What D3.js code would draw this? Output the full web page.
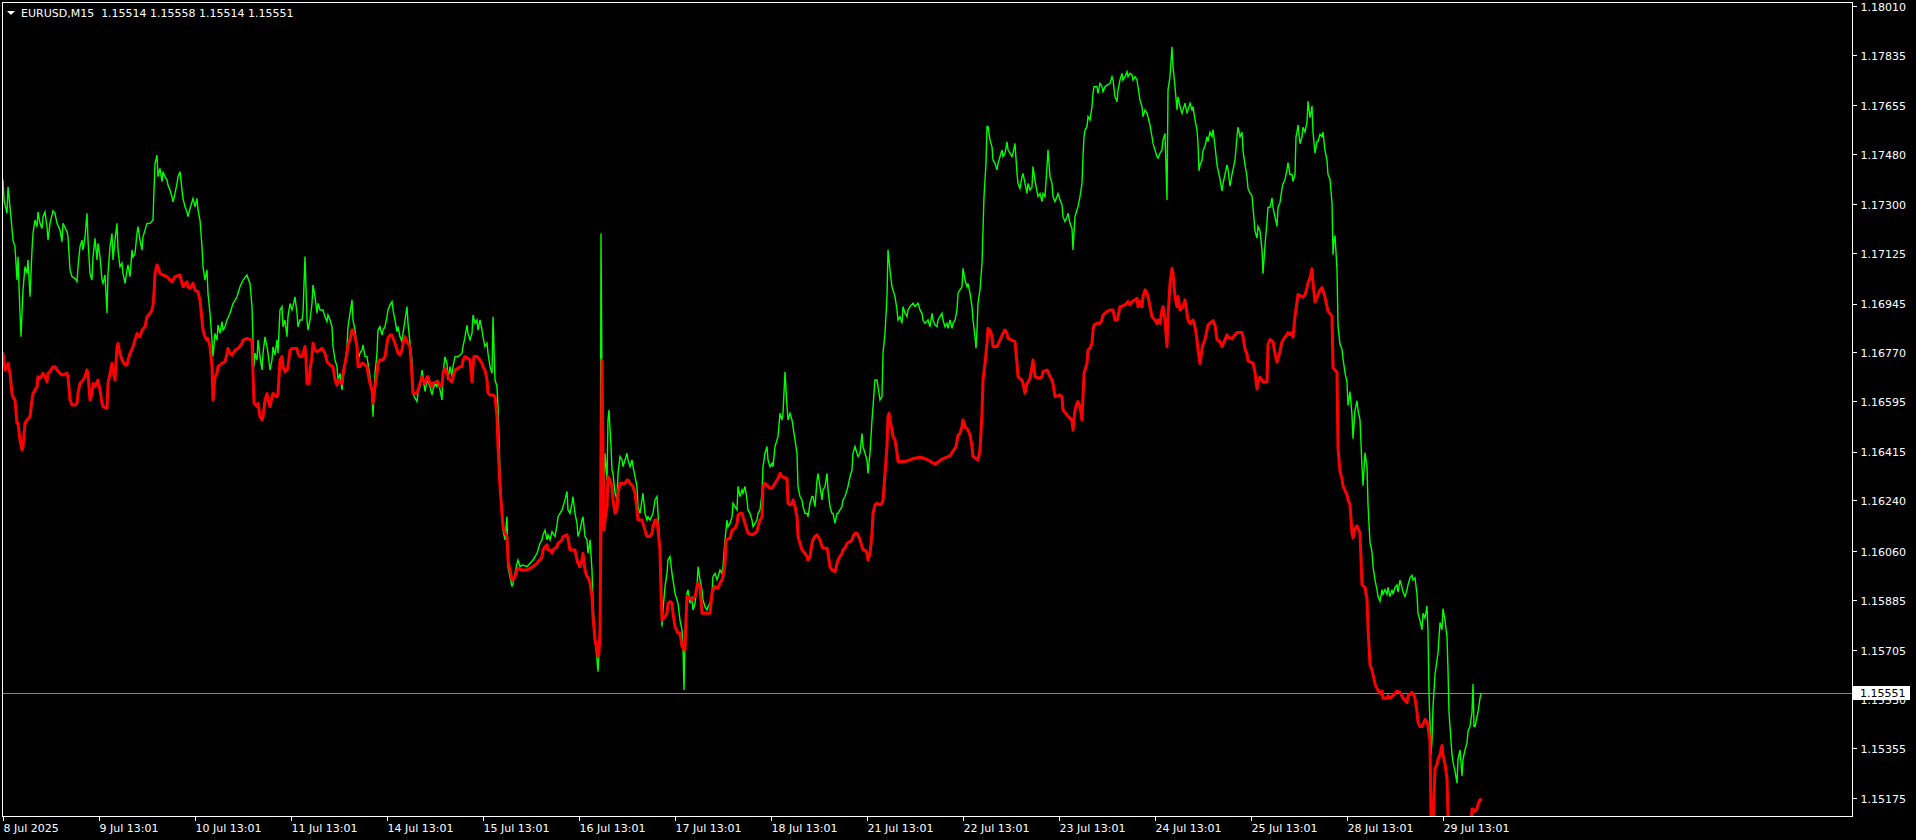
<!DOCTYPE html>
<html>
<head>
<meta charset="utf-8">
<script src="https://cdn.jsdelivr.net/npm/d3@7/dist/d3.min.js"></script>
<style>
  html, body { margin: 0; padding: 0; background: #000; }
  svg { display: block; }
  text { font-family: "DejaVu Sans", sans-serif; font-size: 11px; }
</style>
</head>
<body>
<svg id="chart" width="1916" height="840"></svg>
<script>
// ---------------- DATA ----------------
const symbolTitle = "EURUSD,M15";
const ohlcValues = ["1.15514", "1.15558", "1.15514", "1.15551"];
const lastPrice = 1.15551;

// price axis labels
const priceTicks = [1.18010, 1.17835, 1.17655, 1.17480, 1.17300, 1.17125, 1.16945, 1.16770,
  1.16595, 1.16415, 1.16240, 1.16060, 1.15885, 1.15705, 1.15530, 1.15355, 1.15175];

// time axis: bar index (M15 bars) and label
const timeTickBars = [0, 96, 192, 288, 384, 480, 576, 672, 768, 864, 960, 1056, 1152, 1248, 1344, 1440];
const timeTickLabels = ["8 Jul 2025", "9 Jul 13:01", "10 Jul 13:01", "11 Jul 13:01", "14 Jul 13:01",
  "15 Jul 13:01", "16 Jul 13:01", "17 Jul 13:01", "18 Jul 13:01", "21 Jul 13:01", "22 Jul 13:01",
  "23 Jul 13:01", "24 Jul 13:01", "25 Jul 13:01", "28 Jul 13:01", "29 Jul 13:01"];

// close price series: [bar index, price]
const closeSeries = [
[0,1.17387],[1,1.17315],[4,1.17268],[5,1.17363],[7,1.17291],[10,1.17172],[12,1.17148],[14,1.17029],[15,1.17112],[17,1.16910],[18,1.16826],[19,1.16910],[20,1.16993],[22,1.17077],[24,1.17053],[25,1.17101],[27,1.16969],[29,1.17136],[30,1.17196],[32,1.17244],[34,1.17220],[35,1.17273],[37,1.17232],[39,1.17214],[40,1.17256],[42,1.17273],[44,1.17220],[45,1.17172],[47,1.17232],[50,1.17277],[52,1.17268],[54,1.17232],[57,1.17208],[59,1.17166],[60,1.17232],[64,1.17202],[65,1.17184],[67,1.17065],[69,1.17041],[72,1.17035],[74,1.17023],[75,1.17077],[77,1.17148],[79,1.17172],[80,1.17136],[82,1.17184],[84,1.17268],[85,1.17172],[87,1.17053],[89,1.17029],[90,1.17112],[92,1.17178],[94,1.17101],[95,1.17160],[97,1.17112],[99,1.17029],[100,1.17017],[102,1.17047],[104,1.16910],[105,1.17053],[107,1.17148],[109,1.17196],[110,1.17101],[112,1.17172],[114,1.17232],[115,1.17136],[117,1.17077],[119,1.17089],[120,1.17053],[122,1.17017],[124,1.17065],[125,1.17083],[127,1.17041],[129,1.17136],[130,1.17112],[132,1.17124],[134,1.17196],[135,1.17220],[137,1.17172],[139,1.17136],[140,1.17184],[144,1.17232],[147,1.17232],[150,1.17244],[151,1.17351],[152,1.17446],[154,1.17476],[155,1.17399],[157,1.17429],[159,1.17381],[160,1.17417],[162,1.17399],[164,1.17387],[165,1.17369],[167,1.17351],[169,1.17327],[170,1.17309],[172,1.17339],[174,1.17375],[175,1.17399],[177,1.17417],[179,1.17351],[180,1.17321],[182,1.17291],[184,1.17273],[185,1.17256],[187,1.17285],[189,1.17309],[190,1.17321],[192,1.17291],[194,1.17321],[195,1.17280],[197,1.17244],[199,1.17148],[200,1.17077],[202,1.17029],[204,1.17065],[205,1.16981],[207,1.16910],[209,1.16814],[210,1.16755],[212,1.16838],[214,1.16814],[215,1.16868],[217,1.16838],[219,1.16880],[220,1.16850],[222,1.16862],[224,1.16886],[227,1.16910],[230,1.16945],[234,1.16969],[237,1.17005],[240,1.17029],[244,1.17047],[245,1.17035],[247,1.17017],[249,1.16934],[250,1.16814],[251,1.16719],[252,1.16767],[254,1.16743],[255,1.16814],[257,1.16755],[259,1.16707],[260,1.16767],[262,1.16826],[264,1.16790],[265,1.16767],[267,1.16707],[269,1.16743],[270,1.16790],[272,1.16761],[274,1.16814],[275,1.16767],[277,1.16922],[279,1.16934],[280,1.16862],[282,1.16886],[284,1.16826],[285,1.16898],[287,1.16945],[289,1.16922],[290,1.16934],[292,1.16969],[294,1.16910],[295,1.16862],
[297,1.16886],[299,1.16886],[300,1.16910],[302,1.17113],[304,1.16886],[305,1.16850],[307,1.16886],[309,1.16946],[310,1.17011],[312,1.16970],[314,1.16910],[315,1.16946],[317,1.16922],[320,1.16922],[322,1.16898],[324,1.16880],[325,1.16904],[327,1.16886],[329,1.16862],[330,1.16791],[332,1.16743],[334,1.16719],[335,1.16671],[337,1.16695],[339,1.16636],[340,1.16671],[342,1.16731],[344,1.16791],[345,1.16862],[347,1.16910],[349,1.16958],[350,1.16886],[352,1.16850],[354,1.16791],[355,1.16743],[357,1.16767],[359,1.16779],[360,1.16797],[362,1.16755],[364,1.16755],[365,1.16731],[367,1.16683],[369,1.16624],[370,1.16540],[371,1.16624],[372,1.16695],[374,1.16767],[375,1.16850],[377,1.16862],[379,1.16832],[380,1.16850],[382,1.16862],[384,1.16898],[385,1.16922],[387,1.16940],[389,1.16952],[390,1.16922],[392,1.16886],[394,1.16844],[395,1.16862],[397,1.16826],[399,1.16809],[400,1.16838],[402,1.16886],[404,1.16934],[405,1.16874],[407,1.16803],[409,1.16743],[410,1.16624],[412,1.16606],[414,1.16594],[415,1.16624],[417,1.16648],[419,1.16707],[420,1.16683],[422,1.16630],[424,1.16671],[427,1.16648],[429,1.16618],[430,1.16636],[432,1.16659],[434,1.16648],[435,1.16671],[437,1.16636],[439,1.16600],[440,1.16695],[442,1.16755],[444,1.16731],[445,1.16671],[447,1.16719],[449,1.16683],[450,1.16719],[452,1.16755],[455,1.16755],[459,1.16767],[460,1.16791],[462,1.16826],[464,1.16868],[465,1.16838],[467,1.16815],[469,1.16838],[470,1.16904],[472,1.16874],[474,1.16886],[475,1.16850],[477,1.16886],[479,1.16850],[480,1.16826],[482,1.16791],[484,1.16803],[485,1.16767],[487,1.16719],[489,1.16695],[490,1.16898],[492,1.16671],[494,1.16648],[495,1.16576],[496,1.16469],[497,1.16337],[499,1.16194],[500,1.16134],[502,1.16099],[504,1.16182],[505,1.16003],[507,1.15967],[509,1.15932],[510,1.15944],[512,1.15979],[514,1.16015],[515,1.16027],[517,1.16003],[520,1.16009],[524,1.16003],[527,1.16015],[530,1.16027],[534,1.16051],[535,1.16063],[537,1.16087],[539,1.16099],[540,1.16117],[542,1.16134],[544,1.16099],[545,1.16117],[547,1.16099],[549,1.16129],[550,1.16123],[552,1.16111],[554,1.16152],[555,1.16182],[557,1.16194],[559,1.16206],[560,1.16218],[562,1.16242],[564,1.16272],[565,1.16206],[567,1.16194],[569,1.16230],[570,1.16254],[572,1.16194],[574,1.16158],[575,1.16111],[577,1.16134],[579,1.16170],[580,1.16182],[582,1.16111],[584,1.16099],[585,1.16051],[587,1.16099],[589,1.15991],[590,1.15872],[592,1.15753],[594,1.15669],[595,1.15627],
[597,1.15777],[598,1.17196],[599,1.16648],[600,1.16170],[601,1.16290],[602,1.16409],[604,1.16313],[605,1.16528],[606,1.16564],[608,1.16433],[609,1.16349],[610,1.16337],[612,1.16266],[614,1.16242],[615,1.16337],[617,1.16397],[619,1.16385],[620,1.16361],[622,1.16385],[624,1.16409],[625,1.16385],[627,1.16361],[629,1.16385],[630,1.16361],[632,1.16325],[634,1.16290],[635,1.16218],[637,1.16194],[639,1.16242],[640,1.16266],[642,1.16194],[644,1.16170],[645,1.16182],[647,1.16170],[650,1.16194],[652,1.16242],[654,1.16254],[655,1.16194],[657,1.16051],[659,1.15789],[660,1.15848],[662,1.15932],[664,1.15979],[665,1.16027],[667,1.16039],[669,1.15979],[670,1.15956],[672,1.15908],[674,1.15884],[675,1.15872],[677,1.15812],[679,1.15777],[680,1.15717],[681,1.15562],[682,1.15753],[684,1.15908],[685,1.15920],[687,1.15872],[689,1.15896],[690,1.15848],[692,1.15872],[694,1.15932],[695,1.16003],[697,1.15956],[699,1.15920],[700,1.15884],[702,1.15860],[704,1.15848],[705,1.15860],[707,1.15872],[709,1.15908],[710,1.15967],[712,1.15979],[714,1.15956],[715,1.15967],[717,1.15991],[719,1.15979],[720,1.16003],[722,1.16099],[724,1.16170],[725,1.16146],[727,1.16158],[729,1.16182],[730,1.16230],[732,1.16218],[734,1.16206],[735,1.16290],[737,1.16254],[739,1.16278],[740,1.16266],[742,1.16290],[744,1.16242],[745,1.16206],[747,1.16194],[749,1.16170],[750,1.16146],[752,1.16158],[754,1.16170],[755,1.16194],[757,1.16206],[759,1.16266],[760,1.16361],[762,1.16409],[764,1.16433],[765,1.16385],[767,1.16361],[769,1.16373],[770,1.16361],[772,1.16433],[774,1.16457],[775,1.16469],[777,1.16552],[779,1.16528],[780,1.16552],[782,1.16701],[784,1.16576],[785,1.16528],[787,1.16552],[789,1.16528],[790,1.16504],[792,1.16457],[794,1.16409],[795,1.16290],[797,1.16254],[799,1.16242],[800,1.16218],[802,1.16194],[804,1.16194],[805,1.16182],[807,1.16230],[809,1.16254],[810,1.16254],[812,1.16218],[814,1.16313],[815,1.16337],[817,1.16290],[819,1.16242],[820,1.16278],[822,1.16290],[824,1.16337],[825,1.16278],[827,1.16218],[829,1.16194],[830,1.16194],[832,1.16158],[834,1.16194],[835,1.16194],[837,1.16206],[839,1.16218],[840,1.16242],[842,1.16254],[844,1.16278],[845,1.16290],[847,1.16325],[849,1.16349],[850,1.16409],[852,1.16433],[854,1.16409],[855,1.16397],[857,1.16409],[859,1.16480],[860,1.16433],[862,1.16409],[864,1.16385],[865,1.16337],[867,1.16409],[869,1.16528],[870,1.16576],[872,1.16671],[874,1.16671],[875,1.16648],[877,1.16600],[879,1.16612],[880,1.16767],[882,1.16838],[884,1.16970],[885,1.17137],[887,1.17065],[889,1.17005],[890,1.16993],[892,1.16970],[894,1.16922],[895,1.16886],
[897,1.16898],[899,1.16874],[900,1.16934],[902,1.16910],[904,1.16898],[905,1.16922],[907,1.16934],[910,1.16946],[912,1.16934],[915,1.16946],[917,1.16922],[919,1.16910],[920,1.16886],[922,1.16874],[925,1.16886],[927,1.16862],[929,1.16910],[930,1.16886],[932,1.16868],[934,1.16862],[935,1.16886],[937,1.16898],[939,1.16910],[940,1.16886],[942,1.16862],[944,1.16874],[945,1.16856],[947,1.16886],[949,1.16856],[950,1.16874],[952,1.16886],[954,1.16922],[955,1.16982],[957,1.16994],[959,1.17005],[960,1.17071],[962,1.17029],[964,1.17005],[965,1.17017],[967,1.16982],[969,1.16934],[970,1.16886],[972,1.16827],[973,1.16785],[974,1.16850],[975,1.16946],[977,1.16994],[979,1.17089],[980,1.17208],[981,1.17328],[982,1.17387],[983,1.17447],[984,1.17578],[985,1.17578],[987,1.17530],[989,1.17506],[990,1.17459],[992,1.17447],[994,1.17423],[995,1.17447],[997,1.17471],[999,1.17495],[1000,1.17471],[1002,1.17483],[1004,1.17524],[1005,1.17495],[1007,1.17483],[1009,1.17471],[1010,1.17483],[1012,1.17518],[1014,1.17411],[1015,1.17375],[1017,1.17357],[1019,1.17399],[1020,1.17411],[1022,1.17375],[1024,1.17339],[1025,1.17375],[1027,1.17351],[1029,1.17363],[1030,1.17435],[1032,1.17387],[1034,1.17345],[1035,1.17328],[1037,1.17339],[1039,1.17310],[1040,1.17339],[1042,1.17328],[1044,1.17435],[1045,1.17495],[1047,1.17399],[1049,1.17375],[1050,1.17328],[1052,1.17310],[1054,1.17328],[1055,1.17339],[1057,1.17316],[1059,1.17298],[1060,1.17256],[1062,1.17238],[1064,1.17256],[1065,1.17268],[1067,1.17232],[1069,1.17214],[1070,1.17137],[1072,1.17256],[1074,1.17280],[1075,1.17292],[1077,1.17328],[1079,1.17375],[1080,1.17471],[1081,1.17542],[1082,1.17566],[1084,1.17578],[1085,1.17614],[1087,1.17602],[1089,1.17650],[1090,1.17697],[1091,1.17721],[1094,1.17721],[1095,1.17697],[1097,1.17733],[1099,1.17721],[1100,1.17703],[1102,1.17721],[1104,1.17727],[1107,1.17733],[1109,1.17757],[1110,1.17745],[1112,1.17685],[1114,1.17667],[1115,1.17709],[1117,1.17745],[1119,1.17769],[1120,1.17745],[1122,1.17757],[1124,1.17775],[1125,1.17757],[1127,1.17769],[1129,1.17763],[1130,1.17745],[1132,1.17757],[1134,1.17745],[1135,1.17721],[1137,1.17673],[1139,1.17650],[1140,1.17614],[1142,1.17638],[1144,1.17626],[1145,1.17614],[1147,1.17584],[1149,1.17542],[1150,1.17518],[1152,1.17495],[1154,1.17471],[1155,1.17465],[1157,1.17483],[1159,1.17495],[1160,1.17530],[1162,1.17554],[1164,1.17316],[1165,1.17709],[1167,1.17757],[1169,1.17864],[1170,1.17793],[1172,1.17721],[1174,1.17638],[1175,1.17685],[1177,1.17650],[1179,1.17626],[1180,1.17638],[1182,1.17662],[1184,1.17626],[1185,1.17638],[1187,1.17662],[1189,1.17638],[1190,1.17650],[1192,1.17602],[1194,1.17566],[1195,1.17518],[1196,1.17420],
[1197,1.17441],[1199,1.17458],[1200,1.17492],[1202,1.17509],[1204,1.17542],[1205,1.17525],[1207,1.17559],[1209,1.17542],[1210,1.17568],[1212,1.17509],[1214,1.17441],[1215,1.17424],[1217,1.17390],[1219,1.17348],[1220,1.17373],[1222,1.17407],[1224,1.17441],[1225,1.17424],[1227,1.17365],[1229,1.17407],[1230,1.17424],[1232,1.17458],[1234,1.17542],[1235,1.17576],[1237,1.17542],[1239,1.17559],[1240,1.17492],[1242,1.17441],[1244,1.17399],[1245,1.17357],[1247,1.17340],[1249,1.17331],[1250,1.17289],[1252,1.17205],[1254,1.17179],[1255,1.17221],[1257,1.17205],[1259,1.17137],[1260,1.17052],[1262,1.17154],[1264,1.17238],[1265,1.17289],[1267,1.17289],[1269,1.17323],[1270,1.17289],[1272,1.17255],[1274,1.17221],[1275,1.17289],[1277,1.17306],[1279,1.17357],[1280,1.17373],[1282,1.17390],[1284,1.17424],[1285,1.17449],[1287,1.17407],[1289,1.17407],[1290,1.17382],[1292,1.17407],[1293,1.17542],[1294,1.17559],[1295,1.17585],[1297,1.17517],[1299,1.17542],[1300,1.17576],[1302,1.17559],[1304,1.17593],[1305,1.17669],[1307,1.17610],[1309,1.17652],[1310,1.17559],[1312,1.17483],[1314,1.17525],[1315,1.17525],[1317,1.17551],[1319,1.17542],[1320,1.17559],[1322,1.17492],[1324,1.17458],[1325,1.17407],[1327,1.17390],[1329,1.17306],[1330,1.17120],[1331,1.17171],[1332,1.17188],[1334,1.17069],[1335,1.16867],[1337,1.16799],[1339,1.16782],[1340,1.16748],[1342,1.16698],[1344,1.16664],[1345,1.16580],[1347,1.16630],[1349,1.16546],[1350,1.16461],[1352,1.16563],[1354,1.16597],[1355,1.16563],[1357,1.16529],[1359,1.16360],[1360,1.16293],[1362,1.16411],[1364,1.16360],[1365,1.16225],[1367,1.16090],[1369,1.16056],[1370,1.16005],[1372,1.15955],[1374,1.15921],[1375,1.15896],[1377,1.15879],[1379,1.15921],[1380,1.15904],[1382,1.15921],[1384,1.15904],[1385,1.15929],[1387,1.15896],[1389,1.15921],[1390,1.15904],[1392,1.15929],[1394,1.15938],[1395,1.15912],[1397,1.15955],[1399,1.15929],[1400,1.15912],[1402,1.15896],[1404,1.15921],[1405,1.15938],[1407,1.15963],[1409,1.15972],[1410,1.15955],[1412,1.15963],[1414,1.15904],[1415,1.15836],[1417,1.15811],[1419,1.15777],[1420,1.15836],[1422,1.15820],[1424,1.15862],[1425,1.15769],[1426,1.15549],[1428,1.15330],[1429,1.15380],[1430,1.15499],[1432,1.15617],[1434,1.15668],[1435,1.15693],[1437,1.15803],[1439,1.15777],[1440,1.15853],[1442,1.15811],[1444,1.15752],[1445,1.15634],[1446,1.15482],[1448,1.15380],[1449,1.15330],[1450,1.15304],[1452,1.15271],[1454,1.15228],[1455,1.15313],[1457,1.15347],[1459,1.15254],[1460,1.15313],[1462,1.15347],[1464,1.15372],[1465,1.15414],[1467,1.15431],[1469,1.15482],[1470,1.15583],[1471,1.15431],[1472,1.15431],[1474,1.15465],[1475,1.15482],[1477,1.15532],[1478,1.15551]
];

// indicator line (red): [bar index, price]
const indicatorSeries = [
[0,1.16766],[2,1.16707],[4,1.16719],[5,1.16731],[7,1.16695],[9,1.16623],[10,1.16611],[12,1.16600],[14,1.16516],[15,1.16516],[17,1.16456],[19,1.16421],[20,1.16432],[22,1.16516],[24,1.16528],[27,1.16540],[29,1.16600],[30,1.16623],[32,1.16635],[34,1.16647],[35,1.16683],[37,1.16677],[40,1.16695],[42,1.16683],[44,1.16665],[45,1.16695],[47,1.16701],[50,1.16719],[52,1.16719],[54,1.16707],[57,1.16695],[59,1.16689],[64,1.16695],[65,1.16683],[67,1.16600],[69,1.16582],[72,1.16582],[74,1.16588],[75,1.16623],[77,1.16659],[80,1.16671],[82,1.16683],[84,1.16707],[85,1.16695],[87,1.16600],[89,1.16623],[90,1.16659],[92,1.16647],[94,1.16665],[95,1.16671],[97,1.16635],[99,1.16588],[100,1.16576],[104,1.16570],[105,1.16659],[107,1.16695],[109,1.16731],[110,1.16707],[112,1.16671],[114,1.16790],[115,1.16802],[117,1.16766],[119,1.16743],[122,1.16725],[124,1.16725],[125,1.16743],[127,1.16766],[130,1.16790],[132,1.16814],[134,1.16838],[137,1.16826],[139,1.16850],[142,1.16862],[144,1.16898],[147,1.16910],[149,1.16922],[150,1.16940],[151,1.16981],[152,1.17053],[154,1.17083],[155,1.17077],[157,1.17053],[160,1.17047],[164,1.17041],[167,1.17029],[169,1.17023],[172,1.17041],[177,1.17047],[179,1.17017],[180,1.17005],[184,1.17023],[185,1.17005],[187,1.16999],[189,1.17011],[190,1.17017],[192,1.16993],[195,1.16987],[197,1.16957],[199,1.16886],[200,1.16850],[202,1.16826],[204,1.16814],[205,1.16820],[207,1.16790],[209,1.16719],[210,1.16600],[212,1.16683],[214,1.16695],[215,1.16719],[219,1.16731],[222,1.16737],[224,1.16766],[225,1.16784],[227,1.16766],[229,1.16760],[232,1.16778],[235,1.16784],[239,1.16802],[240,1.16814],[244,1.16820],[249,1.16814],[250,1.16695],[251,1.16588],[254,1.16576],[255,1.16588],[257,1.16540],[259,1.16528],[260,1.16540],[262,1.16600],[264,1.16623],[265,1.16600],[267,1.16576],[269,1.16611],[270,1.16623],[274,1.16611],[275,1.16623],[277,1.16743],[279,1.16755],[280,1.16719],[282,1.16701],[284,1.16707],[285,1.16719],[287,1.16778],[289,1.16784],[294,1.16784],[295,1.16766],
[297,1.16755],[299,1.16755],[300,1.16767],[302,1.16791],[303,1.16743],[304,1.16659],[306,1.16659],[307,1.16707],[309,1.16755],[310,1.16803],[312,1.16779],[314,1.16773],[317,1.16779],[319,1.16785],[320,1.16779],[322,1.16767],[324,1.16737],[327,1.16725],[330,1.16719],[332,1.16671],[334,1.16653],[335,1.16671],[339,1.16659],[340,1.16695],[342,1.16731],[344,1.16767],[345,1.16797],[347,1.16815],[349,1.16850],[350,1.16850],[352,1.16826],[354,1.16791],[355,1.16719],[357,1.16719],[359,1.16731],[360,1.16731],[364,1.16719],[365,1.16695],[367,1.16659],[369,1.16636],[370,1.16588],[371,1.16612],[372,1.16648],[374,1.16695],[375,1.16731],[377,1.16743],[380,1.16743],[382,1.16755],[384,1.16803],[385,1.16821],[387,1.16832],[389,1.16832],[390,1.16821],[392,1.16803],[394,1.16779],[395,1.16767],[397,1.16761],[399,1.16779],[400,1.16803],[402,1.16826],[404,1.16809],[405,1.16803],[407,1.16791],[409,1.16683],[410,1.16624],[414,1.16624],[415,1.16636],[417,1.16659],[419,1.16683],[420,1.16671],[422,1.16659],[424,1.16683],[425,1.16683],[427,1.16659],[429,1.16648],[430,1.16659],[434,1.16665],[435,1.16665],[437,1.16648],[439,1.16653],[440,1.16695],[442,1.16713],[444,1.16695],[445,1.16683],[447,1.16671],[449,1.16665],[450,1.16683],[452,1.16707],[455,1.16713],[457,1.16719],[459,1.16719],[460,1.16743],[462,1.16755],[465,1.16749],[467,1.16743],[469,1.16665],[470,1.16719],[471,1.16755],[474,1.16755],[477,1.16743],[479,1.16731],[480,1.16719],[482,1.16707],[484,1.16671],[485,1.16624],[487,1.16618],[490,1.16618],[492,1.16612],[494,1.16540],[495,1.16433],[497,1.16290],[499,1.16194],[500,1.16146],[502,1.16123],[504,1.16111],[505,1.16027],[507,1.15991],[509,1.15956],[510,1.15956],[512,1.15967],[514,1.15991],[515,1.15997],[519,1.15991],[524,1.15991],[527,1.15997],[530,1.16003],[532,1.16009],[534,1.16015],[535,1.16021],[537,1.16027],[539,1.16039],[540,1.16063],[542,1.16075],[544,1.16081],[545,1.16063],[547,1.16063],[549,1.16051],[550,1.16063],[554,1.16075],[555,1.16087],[557,1.16093],[559,1.16099],[560,1.16111],[564,1.16117],[565,1.16105],[567,1.16063],[572,1.16063],[574,1.16027],[575,1.16015],[577,1.16003],[579,1.16027],[580,1.16051],[582,1.15991],[584,1.15967],[585,1.15967],[587,1.15944],[589,1.15896],[590,1.15824],[592,1.15741],[594,1.15705],[595,1.15681],[596,1.15693],
[597,1.15777],[598,1.16170],[599,1.16743],[600,1.16409],[601,1.16134],[602,1.16170],[604,1.16218],[605,1.16325],[607,1.16313],[609,1.16290],[610,1.16242],[612,1.16194],[614,1.16206],[615,1.16266],[617,1.16301],[622,1.16301],[624,1.16313],[625,1.16313],[627,1.16301],[630,1.16290],[632,1.16266],[634,1.16206],[635,1.16170],[639,1.16170],[640,1.16158],[642,1.16134],[644,1.16111],[647,1.16111],[649,1.16123],[650,1.16146],[652,1.16170],[654,1.16170],[655,1.16134],[657,1.16063],[658,1.15920],[659,1.15812],[662,1.15824],[664,1.15836],[665,1.15872],[667,1.15878],[669,1.15872],[670,1.15836],[672,1.15789],[675,1.15765],[677,1.15765],[679,1.15717],[682,1.15705],[683,1.15812],[684,1.15896],[687,1.15890],[689,1.15884],[692,1.15896],[694,1.15932],[695,1.15944],[697,1.15932],[699,1.15836],[707,1.15836],[709,1.15908],[710,1.15920],[712,1.15932],[715,1.15926],[717,1.15944],[719,1.15956],[720,1.15967],[722,1.16015],[723,1.16099],[727,1.16105],[729,1.16134],[732,1.16140],[734,1.16158],[735,1.16188],[737,1.16194],[739,1.16194],[740,1.16182],[742,1.16158],[744,1.16134],[745,1.16123],[749,1.16117],[752,1.16123],[754,1.16129],[755,1.16146],[757,1.16170],[759,1.16182],[760,1.16290],[762,1.16301],[767,1.16284],[769,1.16284],[770,1.16290],[772,1.16301],[774,1.16313],[775,1.16319],[777,1.16337],[779,1.16325],[784,1.16319],[785,1.16230],[787,1.16224],[789,1.16230],[790,1.16242],[792,1.16218],[794,1.16182],[795,1.16111],[797,1.16087],[799,1.16063],[802,1.16051],[804,1.16039],[805,1.16027],[807,1.16039],[809,1.16087],[810,1.16099],[812,1.16111],[814,1.16117],[815,1.16111],[817,1.16099],[819,1.16075],[820,1.16069],[824,1.16069],[825,1.16051],[827,1.16003],[829,1.15991],[832,1.15985],[834,1.16015],[835,1.16027],[837,1.16039],[839,1.16051],[840,1.16063],[842,1.16069],[844,1.16087],[847,1.16093],[849,1.16099],[850,1.16111],[852,1.16123],[854,1.16123],[855,1.16117],[857,1.16099],[859,1.16075],[860,1.16063],[862,1.16063],[864,1.16051],[865,1.16027],[867,1.16051],[869,1.16123],[870,1.16194],[872,1.16224],[874,1.16230],[877,1.16224],[879,1.16230],[880,1.16242],[882,1.16337],[884,1.16433],[885,1.16540],[886,1.16552],[887,1.16528],[889,1.16492],[890,1.16469],[892,1.16457],[894,1.16409],[895,1.16379],
[897,1.16379],[903,1.16380],[910,1.16390],[918,1.16395],[925,1.16385],[932,1.16370],[940,1.16390],[947,1.16400],[953,1.16433],
[955,1.16474],[957,1.16480],[959,1.16504],[960,1.16528],[962,1.16504],[965,1.16492],[967,1.16474],[969,1.16433],[970,1.16397],[975,1.16385],[977,1.16421],[979,1.16552],[980,1.16671],[982,1.16731],[984,1.16803],[985,1.16856],[987,1.16850],[989,1.16827],[990,1.16791],[994,1.16791],[997,1.16815],[1000,1.16838],[1002,1.16850],[1004,1.16838],[1005,1.16820],[1012,1.16809],[1014,1.16731],[1015,1.16683],[1019,1.16671],[1020,1.16659],[1022,1.16624],[1024,1.16659],[1027,1.16677],[1029,1.16719],[1030,1.16743],[1032,1.16683],[1037,1.16677],[1039,1.16683],[1040,1.16701],[1044,1.16707],[1045,1.16701],[1047,1.16683],[1049,1.16671],[1050,1.16659],[1052,1.16612],[1057,1.16618],[1059,1.16612],[1060,1.16564],[1064,1.16546],[1067,1.16534],[1069,1.16528],[1070,1.16492],[1072,1.16564],[1074,1.16588],[1075,1.16594],[1077,1.16576],[1079,1.16528],[1080,1.16612],[1081,1.16695],[1082,1.16707],[1084,1.16731],[1085,1.16779],[1087,1.16785],[1089,1.16803],[1090,1.16850],[1091,1.16868],[1094,1.16874],[1097,1.16874],[1099,1.16886],[1100,1.16904],[1104,1.16916],[1107,1.16922],[1110,1.16922],[1112,1.16886],[1114,1.16886],[1115,1.16898],[1117,1.16934],[1122,1.16940],[1125,1.16952],[1127,1.16940],[1129,1.16952],[1132,1.16958],[1134,1.16964],[1135,1.16934],[1137,1.16952],[1139,1.16934],[1140,1.16970],[1142,1.16994],[1144,1.16982],[1145,1.16970],[1147,1.16934],[1149,1.16898],[1152,1.16886],[1154,1.16874],[1155,1.16886],[1157,1.16874],[1159,1.16922],[1160,1.16934],[1162,1.16886],[1164,1.16791],[1165,1.16898],[1167,1.17017],[1169,1.17071],[1170,1.17053],[1172,1.16970],[1174,1.16934],[1175,1.16970],[1177,1.16922],[1180,1.16934],[1182,1.16958],[1184,1.16910],[1185,1.16886],[1187,1.16874],[1190,1.16886],[1192,1.16862],[1194,1.16815],[1195,1.16779],
[1197,1.16730],[1199,1.16782],[1200,1.16799],[1202,1.16816],[1204,1.16850],[1205,1.16867],[1207,1.16875],[1210,1.16884],[1212,1.16867],[1214,1.16816],[1217,1.16808],[1219,1.16791],[1220,1.16799],[1222,1.16816],[1224,1.16833],[1225,1.16825],[1229,1.16819],[1232,1.16833],[1234,1.16841],[1239,1.16841],[1240,1.16825],[1242,1.16782],[1244,1.16765],[1245,1.16740],[1250,1.16732],[1252,1.16698],[1254,1.16639],[1255,1.16664],[1257,1.16681],[1260,1.16664],[1264,1.16664],[1265,1.16799],[1267,1.16816],[1270,1.16808],[1272,1.16765],[1274,1.16735],[1275,1.16748],[1277,1.16774],[1279,1.16808],[1282,1.16825],[1284,1.16833],[1285,1.16841],[1287,1.16833],[1289,1.16841],[1290,1.16825],[1292,1.16900],[1294,1.16951],[1295,1.16977],[1300,1.16968],[1302,1.16977],[1304,1.17002],[1305,1.17019],[1307,1.17036],[1309,1.17069],[1310,1.17019],[1312,1.16951],[1314,1.16968],[1317,1.16993],[1319,1.17002],[1320,1.16993],[1322,1.16968],[1324,1.16934],[1325,1.16917],[1329,1.16900],[1330,1.16715],[1334,1.16698],[1335,1.16428],[1337,1.16343],[1339,1.16318],[1340,1.16292],[1342,1.16276],[1344,1.16259],[1345,1.16242],[1347,1.16225],[1349,1.16124],[1350,1.16107],[1352,1.16140],[1354,1.16149],[1355,1.16140],[1357,1.16124],[1359,1.15938],[1362,1.15929],[1364,1.15887],[1365,1.15786],[1367,1.15651],[1369,1.15634],[1370,1.15617],[1372,1.15583],[1374,1.15566],[1377,1.15549],[1379,1.15558],[1380,1.15532],[1384,1.15532],[1385,1.15541],[1387,1.15532],[1390,1.15541],[1394,1.15558],[1397,1.15553],[1400,1.15532],[1404,1.15516],[1405,1.15541],[1409,1.15553],[1410,1.15549],[1412,1.15532],[1414,1.15482],[1415,1.15448],[1417,1.15431],[1419,1.15431],[1422,1.15456],[1424,1.15448],[1425,1.15431],[1427,1.15380],[1428,1.15110],[1429,1.15043],[1430,1.15076],[1432,1.15279],[1434,1.15296],[1435,1.15313],[1437,1.15330],[1439,1.15363],[1440,1.15330],[1442,1.15296],[1444,1.15245],[1445,1.15110],[1447,1.15009],[1452,1.14990],[1460,1.14980],[1467,1.15010],[1469,1.15136],[1470,1.15136],[1472,1.15127],[1474,1.15136],[1475,1.15152],[1477,1.15169],[1478,1.15169]
];

// ---------------- CHART ----------------
const svg = d3.select("#chart");
const W = 1916, H = 840;
const plot = { left: 2.5, top: 2.5, right: 1852.5, bottom: 816.5 };

svg.append("rect").attr("width", W).attr("height", H).attr("fill", "#000");

const x = d3.scaleLinear().domain([0, 1478]).range([3, 1481]);
const y = d3.scaleLinear().domain([1.15175, 1.18010]).range([798, 6]);

svg.append("defs").append("clipPath").attr("id", "plotClip")
  .append("rect")
  .attr("x", plot.left).attr("y", plot.top)
  .attr("width", plot.right - plot.left).attr("height", plot.bottom - plot.top);

const g = svg.append("g").attr("clip-path", "url(#plotClip)");

// current price line
g.append("line")
  .attr("x1", plot.left).attr("x2", plot.right)
  .attr("y1", Math.round(y(lastPrice)) + 0.5).attr("y2", Math.round(y(lastPrice)) + 0.5)
  .attr("stroke", "#778899").attr("stroke-width", 1)
  .attr("shape-rendering", "crispEdges");

const line = d3.line().x(d => x(d[0])).y(d => y(d[1]));

g.append("path").datum(closeSeries)
  .attr("d", line)
  .attr("fill", "none")
  .attr("stroke", "#00ff00")
  .attr("stroke-width", 1.4)
  .attr("stroke-linejoin", "miter");

g.append("path").datum(indicatorSeries)
  .attr("d", line)
  .attr("fill", "none")
  .attr("stroke", "#ff0000")
  .attr("stroke-width", 3)
  .attr("stroke-linejoin", "round")
  .attr("stroke-linecap", "round");

// frame
svg.append("rect")
  .attr("x", plot.left).attr("y", plot.top)
  .attr("width", plot.right - plot.left).attr("height", plot.bottom - plot.top)
  .attr("fill", "none").attr("stroke", "#fff").attr("stroke-width", 1)
  .attr("shape-rendering", "crispEdges");

// price axis (right)
const yAxis = d3.axisRight(y)
  .tickValues(priceTicks)
  .tickFormat(d3.format(".5f"))
  .tickSize(4).tickSizeOuter(0).tickPadding(4);

const yg = svg.append("g")
  .attr("transform", `translate(${plot.right},0)`)
  .call(yAxis);
yg.select(".domain").remove();
yg.selectAll(".tick line").attr("stroke", "#fff").attr("shape-rendering", "crispEdges");
yg.selectAll(".tick text")
  .attr("fill", "#fff").attr("dy", "0.40em")
  .style("font-family", "'DejaVu Sans', sans-serif").style("font-size", "11px");

// time axis (bottom)
const xAxis = d3.axisBottom(x)
  .tickValues(timeTickBars)
  .tickFormat((d, i) => timeTickLabels[i])
  .tickSize(4).tickSizeOuter(0).tickPadding(4);

const xg = svg.append("g")
  .attr("transform", `translate(0,${plot.bottom})`)
  .call(xAxis);
xg.select(".domain").remove();
xg.selectAll(".tick line").attr("stroke", "#fff").attr("shape-rendering", "crispEdges");
xg.selectAll(".tick text")
  .attr("fill", "#fff").attr("text-anchor", "start").attr("x", 0)
  .style("font-family", "'DejaVu Sans', sans-serif").style("font-size", "11px");

// last price label (drawn over the axis, as in the terminal)
const py = Math.round(y(lastPrice));
svg.append("rect")
  .attr("x", 1853).attr("y", py - 7).attr("width", 57).attr("height", 14)
  .attr("fill", "#fff").attr("shape-rendering", "crispEdges");
svg.append("text")
  .attr("x", 1860).attr("y", py + 4)
  .attr("fill", "#000")
  .text(d3.format(".5f")(lastPrice));

// header
svg.append("path")
  .attr("d", "M7,11 L15,11 L11,15 Z")
  .attr("fill", "#fff");
svg.append("text")
  .attr("x", 21).attr("y", 17)
  .attr("fill", "#fff")
  .style("white-space", "pre")
  .attr("xml:space", "preserve")
  .text(symbolTitle + "  " + ohlcValues.join(" "));
</script>
</body>
</html>
